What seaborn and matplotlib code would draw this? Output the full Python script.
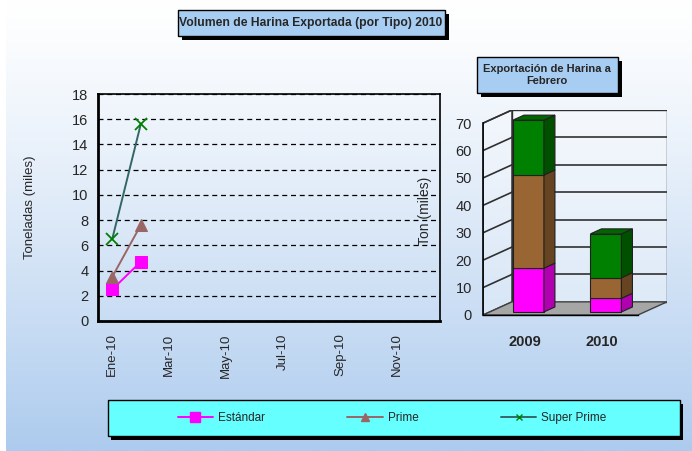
import numpy as np
import pandas as pd
import matplotlib
matplotlib.use("Agg")
import matplotlib.pyplot as plt
import seaborn as sns
from matplotlib.patches import Rectangle, Polygon
from matplotlib.lines import Line2D
from matplotlib import font_manager as fm

# ---------------- data ----------------
months = ["Ene-10", "Feb-10", "Mar-10", "Abr-10", "May-10", "Jun-10",
          "Jul-10", "Ago-10", "Sep-10", "Oct-10", "Nov-10", "Dic-10"]
estandar = [2.5, 4.7]
prime = [3.5, 7.6]
super_prime = [6.5, 15.6]
series_names = ["Estándar", "Prime", "Super Prime"]

years = ["2009", "2010"]
bar_estandar = [16, 5]
bar_prime = [34, 7.5]
bar_super = [20, 16]

# ---------------- style ----------------
sns.set_style("white")
names = {f.name for f in fm.fontManager.ttflist}
NARROW = "Liberation Sans Narrow" if "Liberation Sans Narrow" in names else "Liberation Sans"
plt.rcParams["font.family"] = ["Liberation Sans", "DejaVu Sans"]

W, H = 692, 451
fig = plt.figure(figsize=(W / 100, H / 100), dpi=100)

def fx(px):
    return px / W

def fy(py):
    return 1 - py / H

# background gradient
bg = fig.add_axes([0, 0, 1, 1], zorder=-10)
top = np.array([1.0, 1.0, 1.0])
bot = np.array([173, 203, 238]) / 255
t = np.linspace(0, 1, 256)[:, None, None] ** 1.2
grad = top * (1 - t) + bot * t
bg.imshow(grad, aspect="auto", extent=[0, 1, 0, 1])
bg.axis("off")
fig.patches.append(Rectangle((0, 0), fx(6), 1, transform=fig.transFigure,
                             facecolor="white", edgecolor="none", zorder=-5))

# ---------------- left line chart ----------------
axL = fig.add_axes([fx(98), fy(321), fx(440 - 98), (321 - 94) / H])
axL.patch.set_alpha(0)

df = pd.DataFrame({
    "idx": [0, 1] * 3,
    "valor": estandar + prime + super_prime,
    "tipo": [series_names[0]] * 2 + [series_names[1]] * 2 + [series_names[2]] * 2,
})
styles = {
    "Estándar": dict(color="#ff00ff", marker="s", markersize=8.5,
                     markerfacecolor="#ff00ff", markeredgecolor="#ff00ff"),
    "Prime": dict(color="#996666", marker="^", markersize=9,
                  markerfacecolor="#996666", markeredgecolor="#996666"),
    "Super Prime": dict(color="#336666", marker="x", markersize=8,
                        markeredgecolor="#008000", markeredgewidth=1.3),
}
for name in series_names:
    sub = df[df["tipo"] == name]
    sns.lineplot(data=sub, x="idx", y="valor", ax=axL, linewidth=1.4,
                 legend=False, **styles[name])

axL.set_xlim(-0.5, 11.5)
axL.set_ylim(0, 18)
axL.set_yticks(np.arange(0, 19, 2))
axL.set_xticks(range(0, 12, 2))
axL.set_xticklabels(months[::2], rotation=90, fontsize=9.5)
axL.set_xticks([1.5, 3.5, 5.5, 7.5, 9.5], minor=True)
axL.tick_params(axis="x", which="major", length=0, pad=9)
axL.tick_params(axis="x", which="minor", length=5, width=1, color="black", direction="out")
axL.tick_params(axis="y", length=4, width=1, color="black", direction="out", labelsize=10.5, pad=3)
axL.set_xlabel("")
axL.set_ylabel("")
axL.yaxis.grid(True, linestyle=(0, (4, 3)), color="black", linewidth=0.9)
axL.xaxis.grid(False)
for s, lw in [("left", 2), ("bottom", 2), ("top", 1.2), ("right", 1.2)]:
    axL.spines[s].set_visible(True)
    axL.spines[s].set_color("black")
    axL.spines[s].set_linewidth(lw)
fig.text(fx(30), fy(207), "Toneladas (miles)", rotation=90, ha="center", va="center", fontsize=9.5)

# ---------------- right 3D-like stacked bar chart ----------------
DX, DY = 0.374, 4.8
axR = fig.add_axes([fx(483), fy(315), fx(667 - 483), (315 - 110) / H])
axR.patch.set_alpha(0)
axR.set_xlim(0, 2 + DX)
axR.set_ylim(0, 70 + DY)

wall = "#303030"
axR.add_patch(Polygon([(DX, DY), (2 + DX, DY), (2 + DX, 70 + DY), (DX, 70 + DY)],
                      closed=True, facecolor=(1, 1, 1, 0.35), edgecolor=wall, lw=1.0, zorder=1))
axR.add_patch(Polygon([(0, 0), (DX, DY), (DX, 70 + DY), (0, 70)],
                      closed=True, facecolor=(1, 1, 1, 0.25), edgecolor=wall, lw=1.0, zorder=1))
for v in range(10, 71, 10):
    axR.plot([0, DX], [v, v + DY], color=wall, lw=1.2, zorder=1.5)
    axR.plot([DX, 2 + DX], [v + DY, v + DY], color=wall, lw=1.2, zorder=1.5)
axR.add_patch(Polygon([(0, 0), (2, 0), (2 + DX, DY), (DX, DY)], closed=True,
                      facecolor="#a6a6a6", edgecolor="#404040", lw=1.0, zorder=2))

f0, f1 = 0.23, 0.61
hw = 0.2
seg_colors = [("#ff00ff", "#b000b0", "#d000d0"),
              ("#996633", "#664422", "#7a5230"),
              ("#008000", "#005000", "#006600")]
segments = [bar_estandar, bar_prime, bar_super]
for i, yr in enumerate(years):
    c = 0.5 + i
    xl, xr = c - hw, c + hw
    b = 0.0
    for k, seg in enumerate(segments):
        tp = b + seg[i]
        front, side, topc = seg_colors[k]
        ek = dict(edgecolor="#202020", lw=0.8, zorder=3)
        axR.add_patch(Polygon([(xl + f0 * DX, b + f0 * DY), (xr + f0 * DX, b + f0 * DY),
                               (xr + f0 * DX, tp + f0 * DY), (xl + f0 * DX, tp + f0 * DY)],
                              closed=True, facecolor=front, **ek))
        axR.add_patch(Polygon([(xr + f0 * DX, b + f0 * DY), (xr + f1 * DX, b + f1 * DY),
                               (xr + f1 * DX, tp + f1 * DY), (xr + f0 * DX, tp + f0 * DY)],
                              closed=True, facecolor=side, **ek))
        if k == len(segments) - 1:
            axR.add_patch(Polygon([(xl + f0 * DX, tp + f0 * DY), (xr + f0 * DX, tp + f0 * DY),
                                   (xr + f1 * DX, tp + f1 * DY), (xl + f1 * DX, tp + f1 * DY)],
                                  closed=True, facecolor=topc, **ek))
        b = tp
    axR.text(c + f0 * DX * 0.4, -10, yr, ha="center", va="center",
             fontsize=10.5, fontweight="bold", clip_on=False)

for s in ["top", "right"]:
    axR.spines[s].set_visible(False)
axR.spines["left"].set_bounds(0, 70)
axR.spines["left"].set_color("black")
axR.spines["left"].set_linewidth(1.2)
axR.spines["bottom"].set_bounds(0, 2)
axR.spines["bottom"].set_color("black")
axR.spines["bottom"].set_linewidth(1.0)
axR.set_yticks(range(0, 71, 10))
axR.tick_params(axis="y", length=3, width=1, color="black", direction="out", labelsize=10.5, pad=5)
axR.set_xticks([0, 1, 2])
axR.set_xticklabels([])
axR.tick_params(axis="x", length=5, width=1, color="black", direction="out")
fig.text(fx(425), fy(211), "Ton (miles)", rotation=90, ha="center", va="center", fontsize=10)

# ---------------- title boxes ----------------
def box(x0, y0, x1, y1, fc, sh=(4, 4)):
    fig.patches.append(Rectangle((fx(x0 + sh[0]), fy(y1 + sh[1])), fx(x1 - x0), (y1 - y0) / H,
                                 transform=fig.transFigure, facecolor="black",
                                 edgecolor="none", zorder=5))
    fig.patches.append(Rectangle((fx(x0), fy(y1)), fx(x1 - x0), (y1 - y0) / H,
                                 transform=fig.transFigure, facecolor=fc,
                                 edgecolor="black", lw=1.0, zorder=6))

box(178, 10, 445, 36, "#a8cdf2")
fig.text(fx(311), fy(23), "Volumen de Harina Exportada (por Tipo) 2010", ha="center", va="center",
         fontsize=8.7, fontweight="bold", family=[NARROW, "DejaVu Sans"], zorder=7)
box(477, 57, 618, 93, "#a8cdf2")
fig.text(fx(547), fy(75), "Exportación de Harina a\nFebrero", ha="center", va="center",
         fontsize=8, fontweight="bold", family=[NARROW, "DejaVu Sans"], linespacing=1.35, zorder=7)

# ---------------- legend ----------------
box(108, 400, 680, 436, "#66ffff", sh=(3, 4))
handles = [
    Line2D([], [], color="#ff00ff", marker="s", markersize=7, lw=1.4),
    Line2D([], [], color="#996666", marker="^", markersize=6, lw=1.4),
    Line2D([], [], color="#336666", marker="x", markersize=5, markeredgecolor="#008000", lw=1.4),
]
leg = fig.legend(handles, series_names, loc="center", bbox_to_anchor=(fx(392), fy(418)),
                 ncol=3, frameon=False, handlelength=3, columnspacing=7.0, handletextpad=0.4,
                 prop={"family": [NARROW, "DejaVu Sans"], "size": 8.5})
leg.set_zorder(8)

fig.savefig("out.png", dpi=100)
